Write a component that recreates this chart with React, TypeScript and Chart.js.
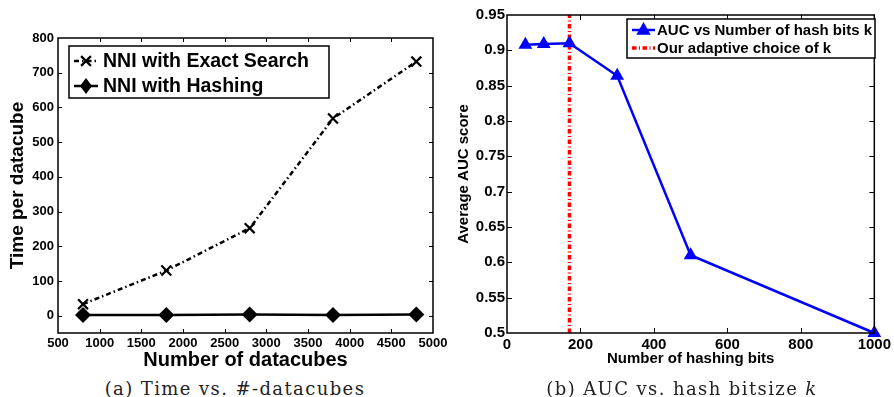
import React, { useEffect, useRef } from "react";
import { Chart, registerables } from "chart.js";

Chart.register(...registerables);

// ---------- Data: panel (a) ----------
const datacubes = [800, 1800, 2800, 3800, 4800];
const exactSearchTime = [33, 130, 252, 568, 732];
const hashingTime = [2, 2, 3, 2, 3];
const leftXTicks = [500, 1000, 1500, 2000, 2500, 3000, 3500, 4000, 4500, 5000];
const leftYTicks = [0, 100, 200, 300, 400, 500, 600, 700, 800];

// ---------- Data: panel (b) ----------
const hashBits = [50, 100, 170, 300, 500, 1000];
const aucScores = [0.908, 0.909, 0.91, 0.864, 0.61, 0.5];
const adaptiveK = 170;
const rightXTicks = [0, 200, 400, 600, 800, 1000];
const rightYTicks = [0.5, 0.55, 0.6, 0.65, 0.7, 0.75, 0.8, 0.85, 0.9, 0.95];

const SANS = "'Liberation Sans', Arial, Helvetica, sans-serif";

function drawMarker(ctx: CanvasRenderingContext2D, style: string, x: number, y: number, r: number, color: string) {
  ctx.save();
  ctx.fillStyle = color;
  ctx.strokeStyle = color;
  ctx.setLineDash([]);
  if (style === "crossRot") {
    ctx.lineWidth = 2.2;
    ctx.beginPath();
    ctx.moveTo(x - r * 0.7, y - r * 0.7);
    ctx.lineTo(x + r * 0.7, y + r * 0.7);
    ctx.moveTo(x + r * 0.7, y - r * 0.7);
    ctx.lineTo(x - r * 0.7, y + r * 0.7);
    ctx.stroke();
  } else if (style === "rectRot") {
    ctx.beginPath();
    ctx.moveTo(x, y - r);
    ctx.lineTo(x + r * 0.75, y);
    ctx.lineTo(x, y + r);
    ctx.lineTo(x - r * 0.75, y);
    ctx.closePath();
    ctx.fill();
  } else if (style === "triangle") {
    ctx.beginPath();
    ctx.moveTo(x, y - r);
    ctx.lineTo(x + r * 0.9, y + r * 0.6);
    ctx.lineTo(x - r * 0.9, y + r * 0.6);
    ctx.closePath();
    ctx.fill();
  }
  ctx.restore();
}

type LegendCfg = {
  box: [number, number, number, number];
  rows: number[];
  lineX: [number, number];
  textX: number;
  font: string;
};

const framePlugin = {
  id: "matlabFrame",
  afterDraw(chart: any, _args: any, opts: any) {
    const { ctx, chartArea } = chart;
    const { left, right, top, bottom } = chartArea;
    const tl = opts.tickLen || 5;
    ctx.save();
    ctx.strokeStyle = "#000";
    ctx.lineWidth = 1;
    ctx.setLineDash([]);
    const xs = chart.scales.x;
    const ys = chart.scales.y;
    ctx.beginPath();
    xs.ticks.forEach((t: any) => {
      const px = Math.round(xs.getPixelForValue(t.value)) + 0.5;
      if (px <= left + 1 || px >= right - 1) return;
      ctx.moveTo(px, bottom);
      ctx.lineTo(px, bottom - tl);
      ctx.moveTo(px, top);
      ctx.lineTo(px, top + tl);
    });
    ys.ticks.forEach((t: any) => {
      const py = Math.round(ys.getPixelForValue(t.value)) + 0.5;
      if (py <= top + 1 || py >= bottom - 1) return;
      ctx.moveTo(left, py);
      ctx.lineTo(left + tl, py);
      ctx.moveTo(right, py);
      ctx.lineTo(right - tl, py);
    });
    ctx.stroke();
    ctx.lineWidth = 1.5;
    ctx.strokeRect(left, top, right - left, bottom - top);

    const lg: LegendCfg = opts.legend;
    if (lg) {
      const [bx1, by1, bx2, by2] = lg.box;
      ctx.fillStyle = "#fff";
      ctx.fillRect(bx1, by1, bx2 - bx1, by2 - by1);
      ctx.lineWidth = 1.5;
      ctx.strokeStyle = "#000";
      ctx.strokeRect(bx1, by1, bx2 - bx1, by2 - by1);
      chart.data.datasets.forEach((ds: any, i: number) => {
        const y = lg.rows[i];
        ctx.save();
        ctx.strokeStyle = ds.borderColor;
        ctx.lineWidth = ds.borderWidth;
        ctx.setLineDash(ds.borderDash || []);
        ctx.beginPath();
        ctx.moveTo(lg.lineX[0], y);
        ctx.lineTo(lg.lineX[1], y);
        ctx.stroke();
        ctx.restore();
        if (ds.pointRadius > 0) {
          drawMarker(ctx, ds.pointStyle, (lg.lineX[0] + lg.lineX[1]) / 2, y, ds.pointRadius, ds.borderColor);
        }
        ctx.fillStyle = "#000";
        ctx.font = lg.font;
        ctx.textBaseline = "middle";
        ctx.textAlign = "left";
        ctx.fillText(ds.label, lg.textX, y + 1);
      });
    }
    ctx.restore();
  },
};

function fmt(v: number) {
  return String(Number(v.toFixed(2)));
}

function LeftChart() {
  const ref = useRef<HTMLCanvasElement>(null);
  useEffect(() => {
    const chart = new Chart(ref.current!, {
      type: "line",
      data: {
        datasets: [
          {
            label: "NNI with Exact Search",
            data: datacubes.map((x, i) => ({ x, y: exactSearchTime[i] })),
            borderColor: "#000",
            backgroundColor: "#000",
            borderWidth: 2.5,
            borderDash: [5, 3, 1.5, 3],
            pointStyle: "crossRot",
            pointRadius: 7,
            pointBorderWidth: 2.2,
            pointBackgroundColor: "#000",
            pointBorderColor: "#000",
            tension: 0,
            clip: false as any,
          },
          {
            label: "NNI with Hashing",
            data: datacubes.map((x, i) => ({ x, y: hashingTime[i] })),
            borderColor: "#000",
            backgroundColor: "#000",
            borderWidth: 2.5,
            pointStyle: "rectRot",
            pointRadius: 8,
            pointBorderWidth: 0,
            pointBackgroundColor: "#000",
            tension: 0,
            clip: false as any,
          },
        ],
      },
      options: {
        animation: false,
        responsive: false,
        events: [],
        layout: { padding: { left: 0, top: 38, right: 19, bottom: 0 } },
        plugins: {
          legend: { display: false },
          tooltip: { enabled: false },
          matlabFrame: {
            tickLen: 4,
            legend: {
              box: [69, 46, 329, 98],
              rows: [61, 86],
              lineX: [74, 98],
              textX: 103,
              font: `bold 19.5px ${SANS}`,
            },
          },
        } as any,
        scales: {
          x: {
            type: "linear",
            min: 500,
            max: 5000,
            afterBuildTicks: (s: any) => {
              s.ticks = leftXTicks.map((v) => ({ value: v }));
            },
            afterFit: (s: any) => {
              s.height = 39;
            },
            grid: { display: false, drawTicks: false },
            border: { display: false },
            ticks: {
              padding: 3,
              color: "#000",
              font: { family: SANS, size: 13, weight: "bold" },
              maxRotation: 0,
              autoSkip: false,
              callback: (v: any) => String(v),
            },
            title: {
              display: true,
              text: "Number of datacubes",
              color: "#000",
              font: { family: SANS, size: 20, weight: "bold" },
              padding: { top: 0, bottom: 0 },
            },
          },
          y: {
            type: "linear",
            min: -50,
            max: 800,
            afterBuildTicks: (s: any) => {
              s.ticks = leftYTicks.map((v) => ({ value: v }));
            },
            afterFit: (s: any) => {
              s.width = 58;
            },
            grid: { display: false, drawTicks: false },
            border: { display: false },
            ticks: {
              padding: 4,
              color: "#000",
              font: { family: SANS, size: 13, weight: "bold" },
              autoSkip: false,
              callback: (v: any) => String(v),
            },
            title: {
              display: true,
              text: "Time per datacube",
              color: "#000",
              font: { family: SANS, size: 19, weight: "bold" },
              padding: { top: 6, bottom: 0 },
            },
          },
        },
      },
      plugins: [framePlugin],
    } as any);
    return () => chart.destroy();
  }, []);
  return (
    <canvas
      ref={ref}
      width={452}
      height={372}
      style={{ position: "absolute", left: 0, top: 0, width: 452, height: 372 }}
    />
  );
}

function RightChart() {
  const ref = useRef<HTMLCanvasElement>(null);
  useEffect(() => {
    const chart = new Chart(ref.current!, {
      type: "line",
      data: {
        datasets: [
          {
            label: "AUC vs Number of hash bits k",
            data: hashBits.map((x, i) => ({ x, y: aucScores[i] })),
            borderColor: "#0000ff",
            backgroundColor: "#0000ff",
            borderWidth: 2.5,
            pointStyle: "triangle",
            pointRadius: 8,
            pointBorderWidth: 0,
            pointBackgroundColor: "#0000ff",
            tension: 0,
            clip: false as any,
          },
          {
            label: "Our adaptive choice of k",
            data: [
              { x: adaptiveK, y: 0.5 },
              { x: adaptiveK, y: 0.95 },
            ],
            borderColor: "#ff0000",
            backgroundColor: "#ff0000",
            borderWidth: 3.5,
            borderDash: [4.5, 2.5, 1, 2.5],
            pointRadius: 0,
            tension: 0,
          },
        ],
      },
      options: {
        animation: false,
        responsive: false,
        events: [],
        layout: { padding: { left: 0, top: 15, right: 15, bottom: 0 } },
        plugins: {
          legend: { display: false },
          tooltip: { enabled: false },
          matlabFrame: {
            tickLen: 5,
            legend: {
              box: [182, 19, 430, 58],
              rows: [30, 48],
              lineX: [187, 210],
              textX: 212,
              font: `bold 15px ${SANS}`,
            },
          },
        } as any,
        scales: {
          x: {
            type: "linear",
            min: 0,
            max: 1000,
            afterBuildTicks: (s: any) => {
              s.ticks = rightXTicks.map((v) => ({ value: v }));
            },
            afterFit: (s: any) => {
              s.height = 39;
            },
            grid: { display: false, drawTicks: false },
            border: { display: false },
            ticks: {
              padding: 3,
              color: "#000",
              font: { family: SANS, size: 15, weight: "bold" },
              maxRotation: 0,
              autoSkip: false,
              callback: (v: any) => String(v),
            },
            title: {
              display: true,
              text: "Number of hashing bits",
              color: "#000",
              font: { family: SANS, size: 15, weight: "bold" },
              padding: { top: 0, bottom: 4 },
            },
          },
          y: {
            type: "linear",
            min: 0.5,
            max: 0.95,
            afterBuildTicks: (s: any) => {
              s.ticks = rightYTicks.map((v) => ({ value: v }));
            },
            afterFit: (s: any) => {
              s.width = 62;
            },
            grid: { display: false, drawTicks: false },
            border: { display: false },
            ticks: {
              padding: 2,
              color: "#000",
              font: { family: SANS, size: 15, weight: "bold" },
              autoSkip: false,
              callback: (v: any) => fmt(Number(v)),
            },
            title: {
              display: true,
              text: "Average AUC score",
              color: "#000",
              font: { family: SANS, size: 15, weight: "bold" },
              padding: { top: 10, bottom: 0 },
            },
          },
        },
      },
      plugins: [framePlugin],
    } as any);
    return () => chart.destroy();
  }, []);
  return (
    <canvas
      ref={ref}
      width={449}
      height={372}
      style={{ position: "absolute", left: 445, top: 0, width: 449, height: 372 }}
    />
  );
}

export default function App() {
  const captionStyle: React.CSSProperties = {
    position: "absolute",
    top: 379,
    fontFamily: "'DejaVu Serif', 'Liberation Serif', serif",
    fontSize: 18,
    letterSpacing: "1.4px",
    color: "#222",
    whiteSpace: "nowrap",
    transform: "translateX(-50%)",
    lineHeight: "20px",
  };
  return (
    <div
      style={{
        position: "fixed",
        left: 0,
        top: 0,
        width: 894,
        height: 397,
        background: "#fff",
        overflow: "hidden",
      }}
    >
      <LeftChart />
      <RightChart />
      <div style={{ ...captionStyle, left: 235 }}>(a) Time vs. #-datacubes</div>
      <div style={{ ...captionStyle, left: 682 }}>
        (b) AUC vs. hash bitsize <i>k</i>
      </div>
    </div>
  );
}
